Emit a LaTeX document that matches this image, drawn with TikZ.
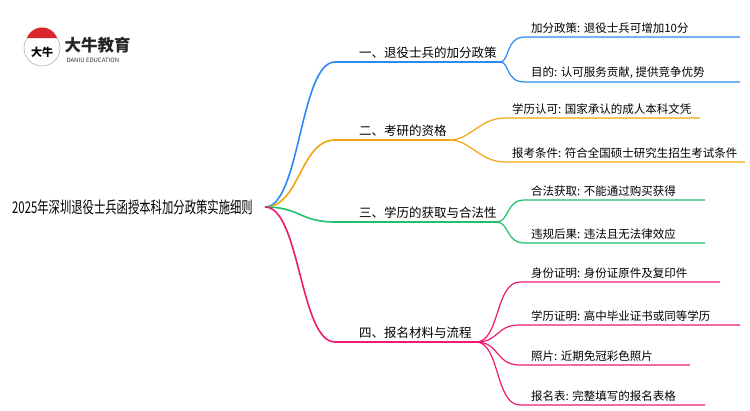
\documentclass[tikz,border=0pt]{standalone}
\usepackage{fontspec}
\setmainfont{Noto Sans CJK SC}
\newfontfamily\rootf[FakeStretch=0.7]{Noto Sans CJK SC}
\definecolor{cb}{HTML}{2A8BF2}
\definecolor{co}{HTML}{F2A60D}
\definecolor{cg}{HTML}{1FC16B}
\definecolor{cp}{HTML}{EE1A72}
\definecolor{lr}{HTML}{D9262B}
\begin{document}
\begin{tikzpicture}[x=1pt,y=-1pt,
  br/.style={line width=1.6pt},
  lf/.style={line width=1.2pt},
  bt/.style={anchor=south west,inner sep=1pt,font=\fontsize{12.5}{14}\selectfont},
  lt/.style={anchor=south west,inner sep=1pt,font=\fontsize{11.5}{13}\selectfont}]
\useasboundingbox (0,0) rectangle (750,410);
\fill[white] (0,0) rectangle (750,410);
% logo
\draw[gray!60,line width=0.6pt] (42,48) circle (18);
\fill[lr] (27,38) arc (200:340:16) -- cycle;
\node[font=\bfseries\fontsize{11}{11}\selectfont] (lg) at (42,52) {大牛};
\node[anchor=west,font=\bfseries\fontsize{16.5}{16}\selectfont,text=black!85] (lt1) at (61,45) {大牛教育};
\node[anchor=west,font=\fontsize{6}{6}\selectfont,text=black!80] (lt2) at (63,60) {DANIU EDUCATION};
% root
\node[anchor=east,font=\rootf\fontsize{16.2}{18}\selectfont,inner sep=1pt] (root) at (254,207) {2025年深圳退役士兵函授本科加分政策实施细则};
\coordinate (o) at (265,207);
% branches
\coordinate (b1s) at (335,62); \coordinate (b1e) at (500,62);
\coordinate (b2s) at (335,140); \coordinate (b2e) at (450,140);
\coordinate (b3s) at (335,222); \coordinate (b3e) at (496,222);
\coordinate (b4s) at (335,342); \coordinate (b4e) at (476,342);
\draw[br,cb] (o) .. controls (300,207) and (300,62) .. (b1s) -- (b1e);
\draw[br,co] (o) .. controls (300,207) and (300,140) .. (b2s) -- (b2e);
\draw[br,cg] (o) .. controls (300,207) and (300,222) .. (b3s) -- (b3e);
\draw[br,cp] (o) .. controls (300,207) and (300,342) .. (b4s) -- (b4e);
\node[bt] (n1) at (358,60) {一、退役士兵的加分政策};
\node[bt] (n2) at (358,138) {二、考研的资格};
\node[bt] (n3) at (358,220) {三、学历的获取与合法性};
\node[bt] (n4) at (358,340) {四、报名材料与流程};
% leaves
\draw[lf,cb] (b1e) .. controls (510,62) and (505,37) .. (525,37) -- (740,37);
\draw[lf,cb] (b1e) .. controls (510,62) and (505,82) .. (525,82) -- (740,82);
\node[lt] (l11) at (530,35) {加分政策: 退役士兵可增加10分};
\node[lt] (l12) at (530,80) {目的: 认可服务贡献, 提供竞争优势};
\draw[lf,co] (b2e) .. controls (470,140) and (480,118) .. (505,118) -- (700,118);
\draw[lf,co] (b2e) .. controls (470,140) and (480,162) .. (505,162) -- (745,162);
\node[lt] (l21) at (511,116) {学历认可: 国家承认的成人本科文凭};
\node[lt] (l22) at (511,160) {报考条件: 符合全国硕士研究生招生考试条件};
\draw[lf,cg] (b3e) .. controls (510,222) and (505,200) .. (525,200) -- (705,200);
\draw[lf,cg] (b3e) .. controls (510,222) and (505,243) .. (525,243) -- (705,243);
\node[lt] (l31) at (530,198) {合法获取: 不能通过购买获得};
\node[lt] (l32) at (530,241) {违规后果: 违法且无法律效应};
\draw[lf,cp] (b4e) .. controls (500,342) and (495,282) .. (520,282) -- (720,282);
\draw[lf,cp] (b4e) .. controls (500,342) and (495,325) .. (520,325) -- (740,325);
\draw[lf,cp] (b4e) .. controls (500,342) and (495,365) .. (520,365) -- (690,365);
\draw[lf,cp] (b4e) .. controls (500,342) and (495,405) .. (520,405) -- (705,405);
\node[lt] (l41) at (530,280) {身份证明: 身份证原件及复印件};
\node[lt] (l42) at (530,323) {学历证明: 高中毕业证书或同等学历};
\node[lt] (l43) at (530,363) {照片: 近期免冠彩色照片};
\node[lt] (l44) at (530,403) {报名表: 完整填写的报名表格};
\end{tikzpicture}
\end{document}
